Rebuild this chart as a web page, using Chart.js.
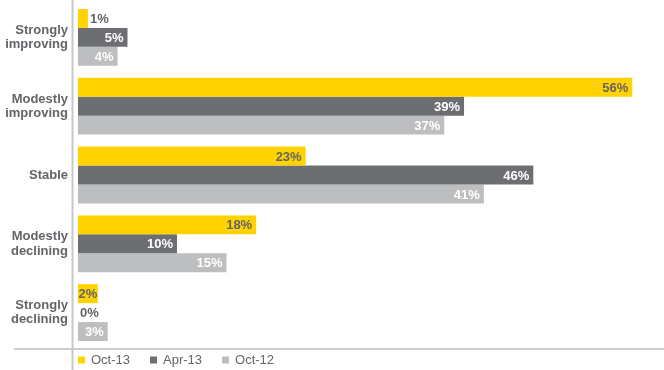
<!DOCTYPE html>
<html>
<head>
<meta charset="utf-8">
<script src="https://cdn.jsdelivr.net/npm/chart.js@4.4.0/dist/chart.umd.min.js"></script>
<style>
  html, body { margin: 0; padding: 0; background: #ffffff; }
  #wrap { position: relative; width: 664px; height: 370px; }
</style>
</head>
<body>
<div id="wrap"><canvas id="c" width="664" height="370"></canvas></div>
<script>
const categories = [
  ['Strongly', 'improving'],
  ['Modestly', 'improving'],
  ['Stable'],
  ['Modestly', 'declining'],
  ['Strongly', 'declining']
];
const seriesNames = ['Oct-13', 'Apr-13', 'Oct-12'];
const oct13 = [1, 56, 23, 18, 2];
const apr13 = [5, 39, 46, 10, 0];
const oct12 = [4, 37, 41, 15, 3];

const YELLOW = '#FFD200';
const DARK = '#6D6E71';
const LIGHT = '#BDBEC0';
const TEXT = '#646569';
const FONT = '"Liberation Sans", Arial, sans-serif';

const labelPlugin = {
  id: 'barLabels',
  afterDatasetsDraw(chart) {
    const ctx = chart.ctx;
    ctx.save();
    ctx.font = 'bold 13px ' + FONT;
    ctx.textBaseline = 'middle';
    chart.data.datasets.forEach((ds, di) => {
      const meta = chart.getDatasetMeta(di);
      meta.data.forEach((el, i) => {
        const v = ds.data[i];
        const txt = v + '%';
        const w = ctx.measureText(txt).width;
        const len = el.x - el.base;
        if (w + 1 <= len) {
          const pad = Math.min(4, (len - w) / 2);
          ctx.fillStyle = ds.insideColor;
          ctx.textAlign = 'right';
          ctx.fillText(txt, el.x - pad, el.y + 1);
        } else {
          ctx.fillStyle = TEXT;
          ctx.textAlign = 'left';
          ctx.fillText(txt, el.x + 2, el.y + 1);
        }
      });
    });
    ctx.restore();
  }
};

const framePlugin = {
  id: 'frame',
  beforeDatasetsDraw(chart) {
    const ctx = chart.ctx;
    ctx.save();
    ctx.strokeStyle = '#CDCDCF';
    ctx.lineWidth = 2;
    ctx.beginPath();
    ctx.moveTo(14, 349);
    ctx.lineTo(664, 349);
    ctx.stroke();
    ctx.strokeStyle = '#C6C7C9';
    ctx.beginPath();
    ctx.moveTo(72.5, 0);
    ctx.lineTo(72.5, 370);
    ctx.stroke();
    ctx.restore();
  },
  afterDraw(chart) {
    const ctx = chart.ctx;
    ctx.save();
    ctx.font = '13px ' + FONT;
    ctx.textBaseline = 'middle';
    ctx.textAlign = 'left';
    let x = 78;
    const y = 360.5;
    chart.data.datasets.forEach((ds) => {
      ctx.fillStyle = ds.backgroundColor;
      ctx.fillRect(x, y - 4, 7, 7);
      ctx.fillStyle = TEXT;
      ctx.fillText(ds.label, x + 13, y);
      x += 13 + ctx.measureText(ds.label).width + 20;
    });
    ctx.restore();
  }
};

new Chart(document.getElementById('c'), {
  type: 'bar',
  data: {
    labels: categories,
    datasets: [
      { label: seriesNames[0], data: oct13, backgroundColor: YELLOW, insideColor: TEXT },
      { label: seriesNames[1], data: apr13, backgroundColor: DARK, insideColor: '#FFFFFF' },
      { label: seriesNames[2], data: oct12, backgroundColor: LIGHT, insideColor: '#FFFFFF' }
    ]
  },
  options: {
    indexAxis: 'y',
    responsive: false,
    animation: false,
    devicePixelRatio: 1,
    layout: { padding: { top: 3, bottom: 23, left: 0, right: 2 } },
    datasets: { bar: { categoryPercentage: 0.826, barPercentage: 1, borderWidth: 0 } },
    plugins: { legend: { display: false }, tooltip: { enabled: false } },
    scales: {
      x: { display: false, min: 0, max: 59 },
      y: {
        grid: { display: false, drawTicks: false },
        border: { display: false },
        ticks: {
          padding: 10,
          color: TEXT,
          font: { family: FONT, size: 13, weight: 'bold', lineHeight: 1.1 }
        },
        afterFit(scale) {
          scale.width = 78;
          scale.paddingTop = 0;
          scale.paddingBottom = 0;
        }
      }
    }
  },
  plugins: [framePlugin, labelPlugin]
});
</script>
</body>
</html>
